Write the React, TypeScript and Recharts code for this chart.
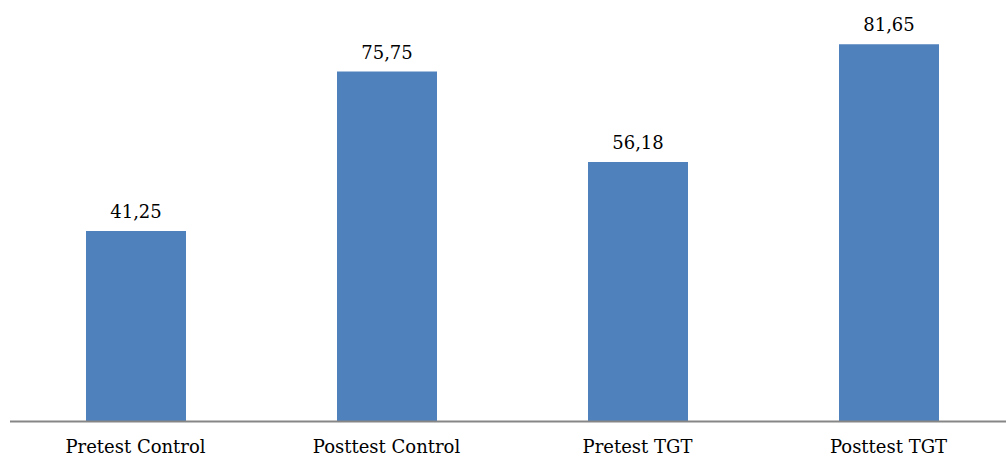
import { BarChart, Bar, XAxis, YAxis, LabelList } from "recharts";

const categories = ["Pretest Control", "Posttest Control", "Pretest TGT", "Posttest TGT"];
const scores = [41.25, 75.75, 56.18, 81.65];

const BAR_COLOR = "#4f81bd";
const FONT = "'DejaVu Serif', 'Liberation Serif', serif";

const data = categories.map((name, i) => ({ name, score: scores[i] }));

// comma as decimal separator, like the source
const fmt = (v: unknown) => Number(v).toFixed(2).replace(".", ",");

export default function App() {
  return (
    <div style={{ position: "absolute", left: 0, top: 0, width: 1006, height: 459, overflow: "hidden", background: "#fff" }}>
      <BarChart
        width={1020}
        height={459}
        data={data}
        margin={{ top: 5.7, right: 6, bottom: 0, left: 10 }}
      >
        <XAxis
          dataKey="name"
          height={37.5}
          axisLine={{ stroke: "#868686", strokeWidth: 2 }}
          tickLine={false}
          tick={{ fill: "#000", fontSize: 18, fontFamily: FONT }}
          tickMargin={13}
          interval={0}
        />
        <YAxis hide domain={[0, 90]} />
        <Bar dataKey="score" fill={BAR_COLOR} barSize={100} isAnimationActive={false}>
          <LabelList
            dataKey="score"
            position="top"
            offset={13}
            formatter={fmt}
            style={{ fill: "#000", fontSize: 18, fontFamily: FONT }}
          />
        </Bar>
      </BarChart>
    </div>
  );
}
